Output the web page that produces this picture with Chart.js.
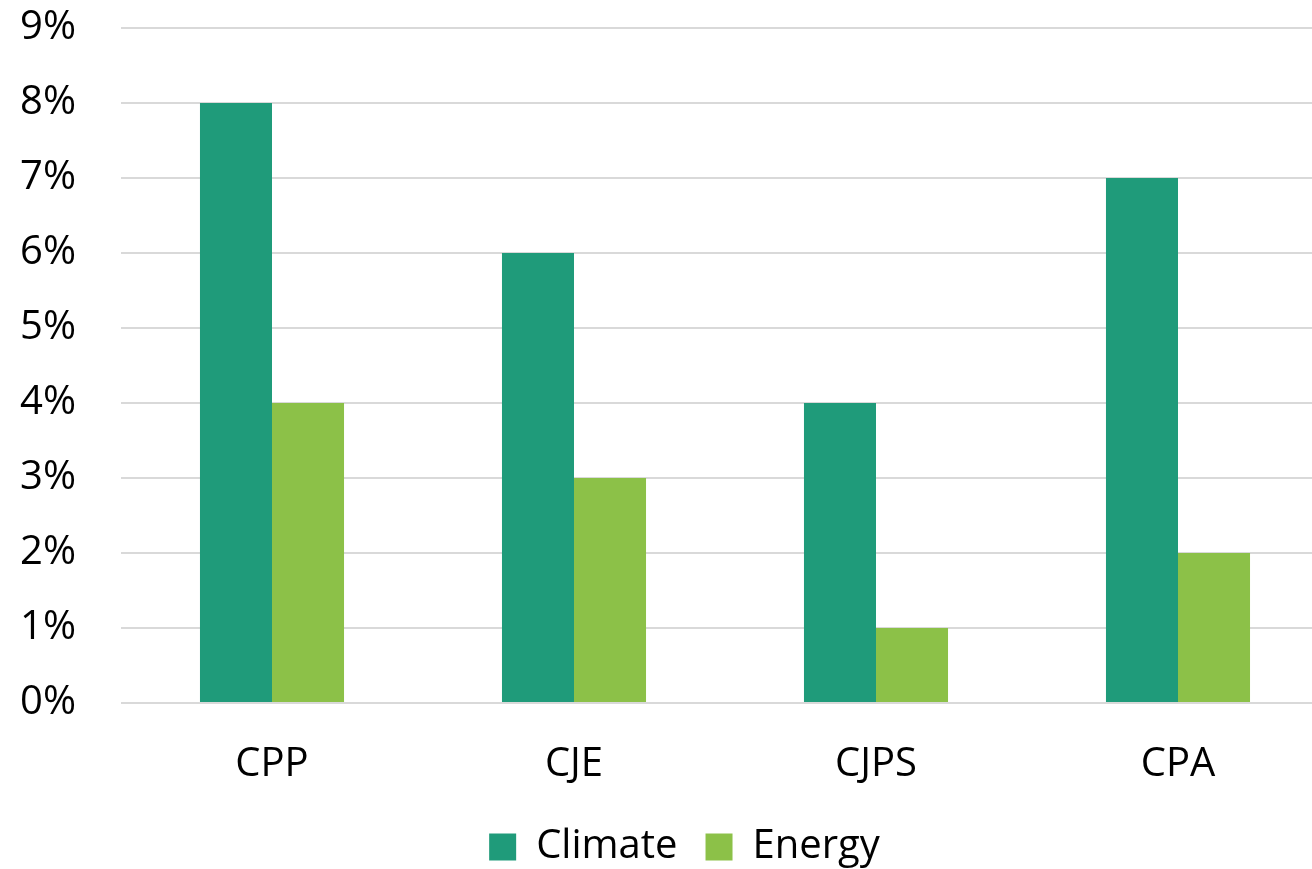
<!DOCTYPE html>
<html>
<head>
<meta charset="utf-8">
<title>Climate and Energy shares</title>
<script src="https://cdn.jsdelivr.net/npm/chart.js@4.4.1/dist/chart.umd.min.js"></script>
<style>
  html, body { margin: 0; padding: 0; background: #ffffff; overflow: hidden; }
  #wrap { position: relative; width: 1340px; height: 869px; }
</style>
</head>
<body>
<div id="wrap"><canvas id="chart"></canvas></div>
<script>
// Share of articles per journal, in percent
const categories = ['CPP', 'CJE', 'CJPS', 'CPA'];
const climateValues = [8, 6, 4, 7];
const energyValues = [4, 3, 1, 2];
const yTickValues = [0, 1, 2, 3, 4, 5, 6, 7, 8, 9];

const FONT = "'Open Sans', 'Noto Sans', sans-serif";
const legendPad = 28;

// Nudges the bottom legend so it sits under the bars group
const legendOffset = {
  id: 'legendOffset',
  afterLayout(chart) {
    const lg = chart.legend;
    if (!lg) return;
    const dx = 20, dy = 8;
    lg.left += dx; lg.right += dx;
    lg.top += dy; lg.bottom += dy;
  }
};

new Chart(document.getElementById('chart'), {
  type: 'bar',
  data: {
    labels: categories,
    datasets: [
      { label: 'Climate', data: climateValues, backgroundColor: '#1f9b7a', borderWidth: 0 },
      { label: 'Energy', data: energyValues, backgroundColor: '#8cc148', borderWidth: 0 }
    ]
  },
  options: {
    responsive: true,
    maintainAspectRatio: false,
    animation: false,
    devicePixelRatio: 1,
    layout: { padding: { top: 28, right: 11, bottom: 0, left: 0 } },
    datasets: { bar: { categoryPercentage: 0.477, barPercentage: 1 } },
    plugins: {
      tooltip: { enabled: false },
      legend: {
        position: 'bottom',
        labels: {
          boxWidth: 27,
          boxHeight: 27,
          padding: legendPad,
          color: '#000000',
          font: { family: FONT, size: 40 }
        }
      }
    },
    scales: {
      x: {
        grid: { display: false, drawTicks: false },
        border: { display: false },
        ticks: { color: '#000000', padding: 38, font: { family: FONT, size: 40 } },
        afterFit(scale) { scale.height = 116 - legendPad; }
      },
      y: {
        min: 0,
        max: 9,
        afterBuildTicks(scale) { scale.ticks = yTickValues.map(v => ({ value: v })); },
        grid: { color: '#d9d9d9', lineWidth: 2, drawTicks: false },
        border: { display: false },
        ticks: {
          color: '#000000',
          padding: 45,
          font: { family: FONT, size: 40 },
          callback: v => v + '%'
        },
        afterFit(scale) {
          scale.width = 121;
          scale.paddingTop = 0;
          scale.paddingBottom = 0;
        }
      }
    }
  },
  plugins: [legendOffset]
});
</script>
</body>
</html>
